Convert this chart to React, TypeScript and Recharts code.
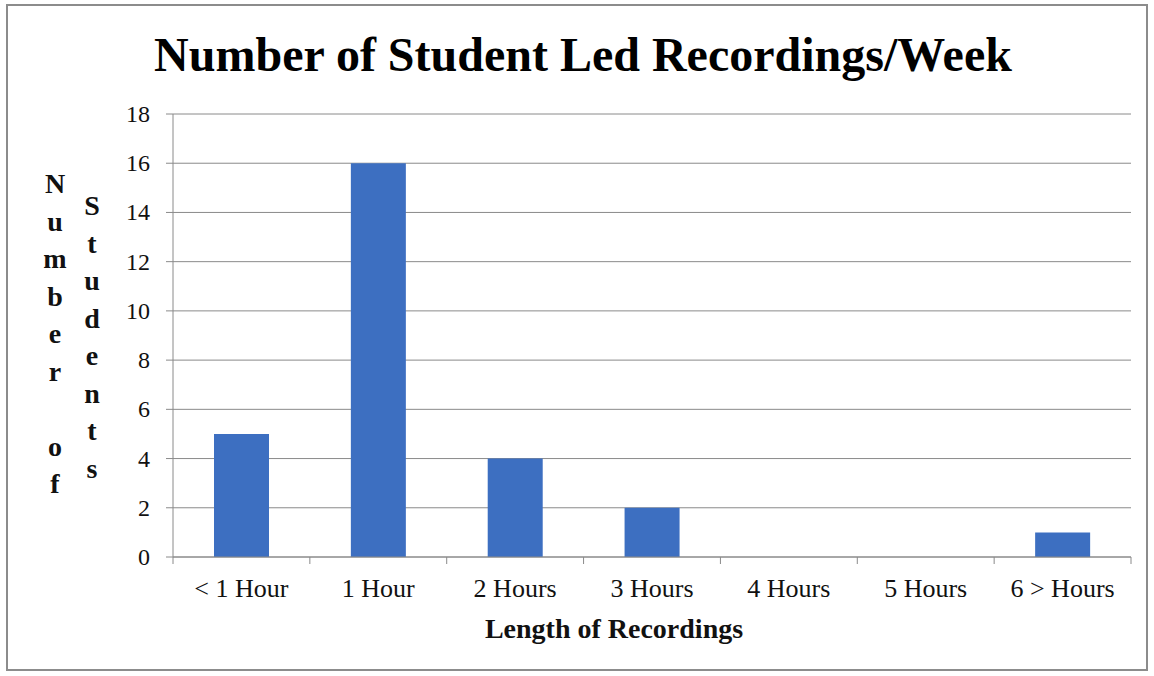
import React from "react";
import { BarChart, Bar, XAxis, YAxis, CartesianGrid } from "recharts";

const categories = ["< 1 Hour", "1 Hour", "2 Hours", "3 Hours", "4 Hours", "5 Hours", "6 > Hours"];
const students = [5, 16, 4, 2, 0, 0, 1];
const yTicks = [0, 2, 4, 6, 8, 10, 12, 14, 16, 18];
const yLabelLeft = "Number of";
const yLabelRight = "Students";

const data = categories.map((c, i) => ({ name: c, value: students[i] }));

const SERIF = "Liberation Serif, Times New Roman, serif";
const GRID = "#8a8a8a";

const XTick = (props: any) => {
  const { x, y, payload, index, width, visibleTicksCount } = props;
  const step = width / (visibleTicksCount || categories.length);
  const base = y - 8;
  return (
    <g>
      <line x1={x - step / 2} x2={x - step / 2} y1={base} y2={base + 7} stroke={GRID} />
      {index === categories.length - 1 && (
        <line x1={x + step / 2} x2={x + step / 2} y1={base} y2={base + 7} stroke={GRID} />
      )}
      <text x={x} y={base + 40} textAnchor="middle" style={{ fontFamily: SERIF, fontSize: 26 }} fill="#111">
        {payload.value}
      </text>
    </g>
  );
};

const YTick = (props: any) => {
  const { x, y, payload } = props;
  return (
    <text x={x} y={y + 8} textAnchor="end" style={{ fontFamily: SERIF, fontSize: 24 }} fill="#111">
      {payload.value}
    </text>
  );
};

const YLabel = () => {
  const leftChars = yLabelLeft.split("");
  const rightChars = yLabelRight.split("");
  return (
    <g style={{ fontFamily: SERIF, fontWeight: "bold", fontSize: 28 }} fill="#111" textAnchor="middle">
      {leftChars.map((ch, i) => (
        <text key={"l" + i} x={55} y={193 + i * 37.5}>
          {ch}
        </text>
      ))}
      {rightChars.map((ch, i) => (
        <text key={"r" + i} x={92} y={215 + i * 37.5}>
          {ch}
        </text>
      ))}
    </g>
  );
};

const XLabel = (props: any) => {
  const { viewBox } = props;
  return (
    <text
      x={viewBox.x + viewBox.width / 2 - 38}
      y={viewBox.y + 81}
      textAnchor="middle"
      style={{ fontFamily: SERIF, fontWeight: "bold", fontSize: 28 }}
      fill="#111"
    >
      Length of Recordings
    </text>
  );
};

export default function App() {
  return (
    <div
      style={{
        position: "absolute",
        left: 0,
        top: 0,
        width: 1154,
        height: 676,
        background: "#fff",
      }}
    >
      <div
        style={{
          position: "absolute",
          left: 6,
          top: 4,
          width: 1142,
          height: 667,
          border: "2px solid #8c8c8c",
          boxSizing: "border-box",
        }}
      />
      <div
        style={{
          position: "absolute",
          left: 0,
          top: 27,
          width: 1166,
          textAlign: "center",
          fontFamily: SERIF,
          fontWeight: "bold",
          fontSize: 48,
          color: "#000",
        }}
      >
        Number of Student Led Recordings/Week
      </div>
      <div style={{ position: "absolute", left: 0, top: 0 }}>
        <BarChart width={1154} height={676} data={data} margin={{ top: 114, right: 23, bottom: 0, left: 0 }}>
          <CartesianGrid vertical={false} stroke={GRID} strokeWidth={1} />
          <XAxis
            dataKey="name"
            height={119}
            axisLine={{ stroke: GRID }}
            tickLine={false}
            tick={<XTick />}
            interval={0}
            label={{ content: <XLabel /> }}
          />
          <YAxis
            width={173}
            domain={[0, 18]}
            ticks={yTicks}
            interval={0}
            axisLine={{ stroke: GRID }}
            tickLine={{ stroke: GRID }}
            tickSize={7}
            tickMargin={16}
            tick={<YTick />}
            label={{ content: <YLabel /> }}
          />
          <Bar dataKey="value" fill="#3d6fc1" barSize={55} isAnimationActive={false} />
        </BarChart>
      </div>
    </div>
  );
}
